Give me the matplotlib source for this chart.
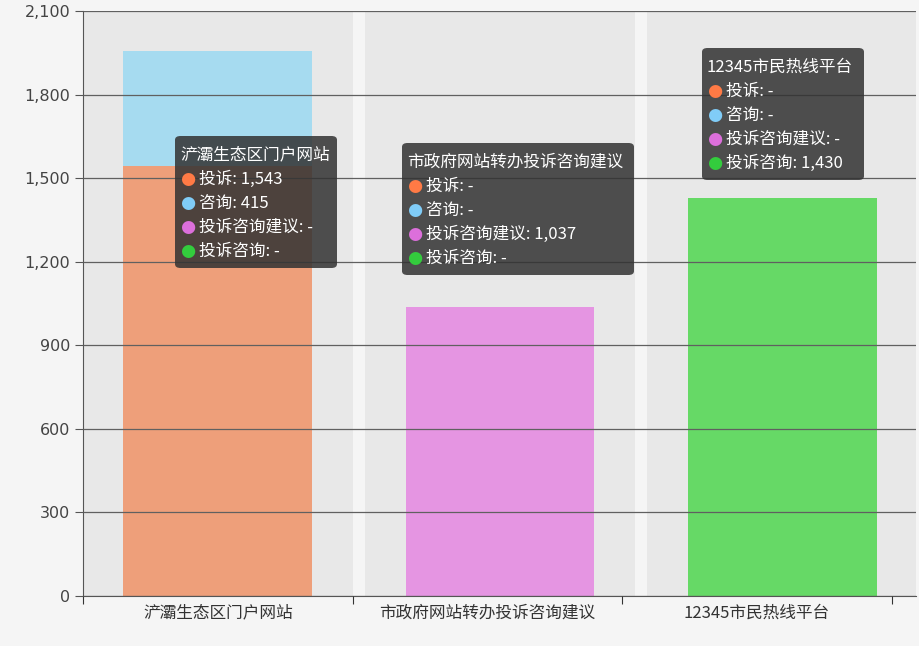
import numpy as np
import matplotlib
matplotlib.use("Agg")
import matplotlib.pyplot as plt
from matplotlib.patches import FancyBboxPatch
from matplotlib.ticker import FuncFormatter

plt.rcParams['font.family'] = ['Noto Sans CJK SC', 'DejaVu Sans']

categories = ["浐灞生态区门户网站", "市政府网站转办投诉咨询建议", "12345市民热线平台"]
series = ["投诉", "咨询", "投诉咨询建议", "投诉咨询"]
values = {
    "投诉": [1543, None, None],
    "咨询": [415, None, None],
    "投诉咨询建议": [None, 1037, None],
    "投诉咨询": [None, None, 1430],
}
bar_colors = ["#EE9F7A", "#A6DBF0", "#E595E2", "#66D966"]
dot_colors = ["#FF7A45", "#80CCF7", "#DC6FDB", "#33CC3D"]
yticks = list(range(0, 2101, 300))

W, H = 920, 646
fig = plt.figure(figsize=(W / 100, H / 100), dpi=100, facecolor="#f5f5f5")
ax = fig.add_axes([83 / W, 1 - 596 / H, (916 - 83) / W, (596 - 11) / H])
ax.set_facecolor("#f5f5f5")

n = len(categories)
step = 1.047
centers = 0.5 + step * np.arange(n)
ax.set_xlim(0, 3.09)
ax.set_ylim(0, 2100)

# grey band behind each category
for c in centers:
    ax.axvspan(c - 0.5, c + 0.5, color="#e8e8e8", zorder=0, lw=0)

ax.set_yticks(yticks)
ax.yaxis.set_major_formatter(FuncFormatter(lambda v, p: f"{int(v):,}"))
ax.grid(axis="y", color="#606060", lw=0.9, zorder=1)
ax.set_axisbelow(False)

bottom = np.zeros(n)
for s, col in zip(series, bar_colors):
    v = np.array([x if x is not None else 0 for x in values[s]], dtype=float)
    ax.bar(centers, v, width=0.70, bottom=bottom, color=col, zorder=2, lw=0)
    bottom += v

ax.set_xticks(np.arange(n + 1))
ax.set_xticklabels([])
ax.set_xticks(np.arange(n) + 0.5, minor=True)
ax.set_xticklabels(categories, minor=True, fontsize=12, color="#333333")
ax.tick_params(axis="x", which="minor", length=0, pad=6)
ax.tick_params(axis="x", which="major", length=6, color="#333333")
ax.tick_params(axis="y", length=6, color="#555555", labelsize=11.5,
               labelcolor="#444444", pad=3, labelfontfamily="DejaVu Sans")
for sp in ["top", "right"]:
    ax.spines[sp].set_visible(False)
ax.spines["left"].set_color("#555555")
ax.spines["bottom"].set_color("#555555")


def fx(x):
    return x / W


def fy(y):
    return 1 - y / H


def tooltip(i, left, top, width, height=132):
    box = FancyBboxPatch((fx(left), fy(top + height)), width / W, height / H,
                         boxstyle="round,pad=0,rounding_size=0.006",
                         transform=fig.transFigure, facecolor="#333333",
                         alpha=0.86, edgecolor="none", zorder=5)
    fig.add_artist(box)
    fig.text(fx(left + 5), fy(top + 19), categories[i], color="white",
             fontsize=12, va="center", ha="left", zorder=6)
    for k, s in enumerate(series):
        yy = top + 43 + 24 * k
        v = values[s][i]
        txt = f"{s}: {v:,}" if v is not None else f"{s}: -"
        fig.text(fx(left + 5), fy(yy), "●", color=dot_colors[k], fontsize=12.5,
                 va="center", ha="left", family="DejaVu Sans", zorder=6)
        fig.text(fx(left + 24), fy(yy), txt, color="white", fontsize=12,
                 va="center", ha="left", zorder=6)


tooltip(0, 175, 136, 162)
tooltip(1, 402, 143, 232)
tooltip(2, 702, 48, 162)

fig.savefig("out.png", dpi=100, facecolor=fig.get_facecolor())
